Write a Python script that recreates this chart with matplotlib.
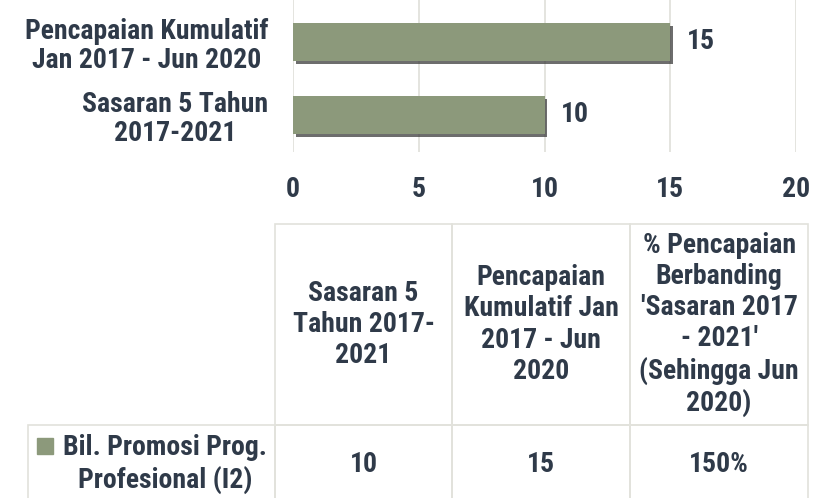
import matplotlib.pyplot as plt
import matplotlib.patheffects as pe
from matplotlib.table import Table
from matplotlib.patches import Rectangle

# Chart data
categories = ['Sasaran 5 Tahun\n2017-2021', 'Pencapaian Kumulatif\nJan 2017 - Jun 2020']
values = [10, 15]
x_ticks = [0, 5, 10, 15, 20]

# Table data
col_headers = [
    'Sasaran 5\nTahun 2017-\n2021',
    'Pencapaian\nKumulatif Jan\n2017 - Jun\n2020',
    "% Pencapaian\nBerbanding\n'Sasaran 2017\n- 2021'\n(Sehingga Jun\n2020)",
]
row_label = 'Bil. Promosi Prog.\nProfesional (I2)'
table_values = ['10', '15', '150%']

FONT = ['Roboto Condensed', 'DejaVu Sans']
TEXT = '#2f3a49'
BAR = '#8c997b'
GRID = '#e2e2dc'

W, H = 821, 498


def px_rect(l, t, r, b):
    # pixel box -> figure fraction
    return [l / W, 1 - b / H, (r - l) / W, (b - t) / H]


fig = plt.figure(figsize=(W / 100, H / 100), dpi=100)

# Bar chart
ax = fig.add_axes(px_rect(293, 0, 796, 152))
y_pos = list(range(len(categories)))
bars = ax.barh(y_pos, values, height=0.52, color=BAR, zorder=3,
               path_effects=[pe.SimplePatchShadow(offset=(2, -2), shadow_rgbFace='#3c3c3c', alpha=0.75),
                             pe.Normal()])
ax.bar_label(bars, padding=12, fontsize=20, fontweight='bold', color=TEXT, family=FONT)
ax.set_xlim(0, 20)
ax.set_ylim(-0.507, 1.575)
ax.set_xticks(x_ticks)
ax.set_yticks(y_pos)
ax.set_yticklabels(categories, multialignment='center', linespacing=1.08)
ax.grid(axis='x', color=GRID, linewidth=1.3)
ax.set_axisbelow(True)
for s in ax.spines.values():
    s.set_visible(False)
ax.tick_params(axis='both', length=0, labelsize=20, labelcolor=TEXT)
ax.tick_params(axis='x', pad=17)
ax.tick_params(axis='y', pad=18)
for lbl in ax.get_xticklabels() + ax.get_yticklabels():
    lbl.set_fontweight('bold')
    lbl.set_family(FONT)

# Data table
tax = fig.add_axes(px_rect(28, 224, 808, 503))
tax.axis('off')
tbl = Table(tax, bbox=[0, 0, 1, 1])
widths = [247, 178, 178, 178]
heights = [201, 78]

for j, txt in enumerate(col_headers):
    tbl.add_cell(0, j + 1, width=widths[j + 1], height=heights[0], text=txt, loc='center')
c = tbl.add_cell(1, 0, width=widths[0], height=heights[1], text=row_label, loc='right')
c.PAD = 8 / widths[0]
for j, txt in enumerate(table_values):
    tbl.add_cell(1, j + 1, width=widths[j + 1], height=heights[1], text=txt, loc='center')

tbl.auto_set_font_size(False)
for cell in tbl.get_celld().values():
    cell.set_edgecolor(GRID)
    cell.set_linewidth(1.2)
    cell.set_facecolor('none')
    t = cell.get_text()
    t.set_fontsize(20)
    t.set_fontweight('bold')
    t.set_color(TEXT)
    t.set_family(FONT)
    t.set_multialignment('center')
    t.set_linespacing(1.2)
tax.add_table(tbl)

# legend key in the row label cell
tax.add_patch(Rectangle((9 / 780, 1 - 230 / 279), 16 / 780, 16 / 279,
                        transform=tax.transAxes, color=BAR, zorder=5))

fig.savefig('out.png', dpi=100)
